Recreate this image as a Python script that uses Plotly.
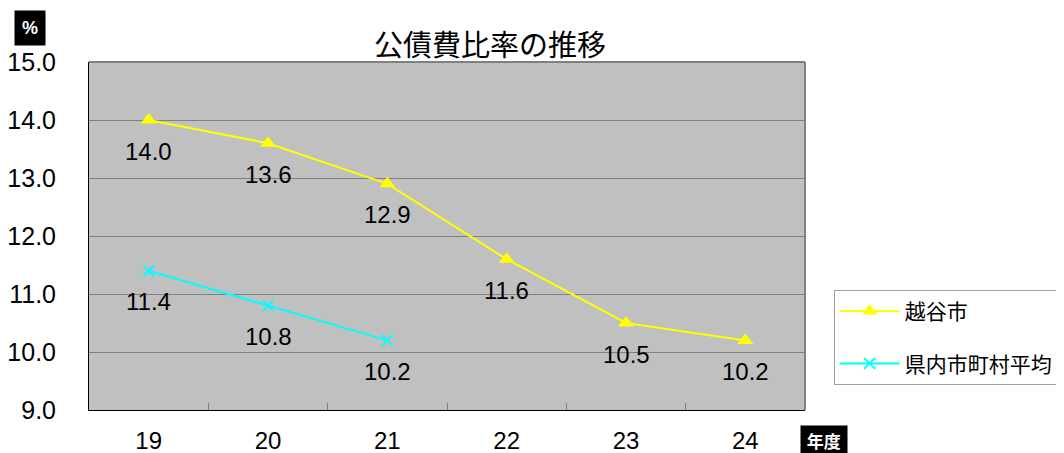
import plotly.graph_objects as go

years = ["19", "20", "21", "22", "23", "24"]
koshigaya = [14.0, 13.6, 12.9, 11.6, 10.5, 10.2]
pref_years = ["19", "20", "21"]
pref_avg = [11.4, 10.8, 10.2]
y_ticks = [9, 10, 11, 12, 13, 14, 15]

FONT = "Liberation Sans, Arial, Noto Sans CJK JP"
JP = "Noto Sans CJK JP"

fig = go.Figure()
fig.add_trace(go.Scatter(
    x=years, y=koshigaya, name="越谷市", mode="lines+markers", legendgroup="a",
    line=dict(color="#FFFF00", width=2),
    marker=dict(symbol="triangle-up", size=14, color="#FFFF00"),
))
fig.add_trace(go.Scatter(
    x=pref_years, y=pref_avg, name="県内市町村平均", mode="lines+markers", legendgroup="b",
    line=dict(color="#00FFFF", width=2),
    marker=dict(symbol="x-thin", size=11, color="#00FFFF", line=dict(color="#00FFFF", width=2)),
))

annotations = []
for xs, ys in ((years, koshigaya), (pref_years, pref_avg)):
    for xv, yv in zip(xs, ys):
        annotations.append(dict(x=years.index(xv), y=yv, xref="x", yref="y", text=f"{yv:.1f}",
                                showarrow=False, yshift=-31, xanchor="center", yanchor="middle",
                                font=dict(size=24, color="black", family=FONT)))

annotations += [
    dict(text="<b>%</b>", xref="paper", yref="paper", x=-0.0824, y=1.098,
         xanchor="center", yanchor="middle", showarrow=False, bgcolor="black",
         font=dict(color="white", size=18, family=FONT), borderpad=7),
    dict(text="&nbsp;<b>年度</b>&nbsp;", xref="paper", yref="paper", x=1.027, y=-0.088,
         xanchor="center", yanchor="middle", showarrow=False, bgcolor="black",
         font=dict(color="white", size=17, family=JP), borderpad=2),
]

fig.update_layout(
    width=1056, height=445,
    margin=dict(l=81, r=259, t=54, b=43, autoexpand=False),
    paper_bgcolor="white", plot_bgcolor="#C0C0C0",
    font=dict(family=FONT, size=24, color="black"),
    title=dict(text="公債費比率の推移", x=(490 - 8) / 1056, xanchor="center", y=0.915, yanchor="middle",
               font=dict(family=JP, size=29, color="black")),
    showlegend=True,
    legend=dict(x=1.04, xanchor="left", y=0.345, yanchor="top",
                bordercolor="#A0A0A0", borderwidth=1, bgcolor="white",
                font=dict(family=JP, size=21), traceorder="grouped",
                tracegroupgap=22, itemwidth=60),
    xaxis=dict(type="category", categoryorder="array", categoryarray=years,
               range=[-0.5, 5.5], showgrid=False, zeroline=False,
               showline=True, linecolor="black", linewidth=1,
               ticks="inside", tickson="boundaries", ticklen=7, tickcolor="#808080",
               ticklabelstandoff=9, tickfont=dict(size=24)),
    yaxis=dict(range=[9, 15], tickvals=y_ticks, ticktext=[f"{v:.1f}" for v in y_ticks],
               showgrid=True, gridcolor="#808080", gridwidth=1, zeroline=False,
               showline=True, linecolor="black", linewidth=1,
               ticks="", ticklabelstandoff=27, tickfont=dict(size=25)),
    shapes=[
        dict(type="line", xref="paper", yref="paper", x0=0, x1=1, y0=1, y1=1,
             line=dict(color="#808080", width=2)),
        dict(type="line", xref="paper", yref="paper", x0=1, x1=1, y0=0, y1=1,
             line=dict(color="#808080", width=2)),
    ],
    annotations=annotations,
)

fig.write_html("out.html")
